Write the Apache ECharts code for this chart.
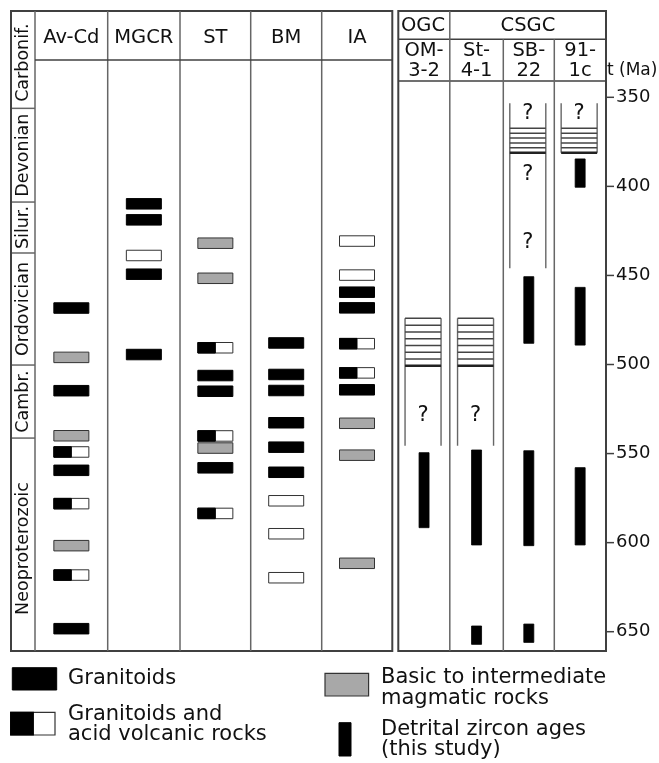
<!DOCTYPE html>
<html><head><meta charset="utf-8">
<script src="https://cdn.jsdelivr.net/npm/echarts@6/dist/echarts.min.js"></script>
<style>html,body{margin:0;padding:0;background:#fff}#c{width:659px;height:763px}</style>
</head><body><div id="c"></div>
<script>
// ---------- DATA ----------
const timeTicks = [350, 400, 450, 500, 550, 600, 650];
const periodNames = ['Carbonif.', 'Devonian', 'Silur.', 'Ordovician', 'Cambr.', 'Neoproterozoic'];
const periodBounds = [356.2, 408.8, 437.4, 500.3, 541.3];

const magmaColumns = ['Av-Cd', 'MGCR', 'ST', 'BM', 'IA'];
// G = granitoids, B = basic to intermediate, W = acid volcanic, H = granitoids and acid volcanic
const avcdAges  = [468.3, 496.0, 514.7, 540.0, 549.1, 559.4, 578.1, 601.7, 618.2, 648.3];
const avcdTypes = ['G', 'B', 'G', 'B', 'H', 'G', 'H', 'B', 'H', 'G'];
const mgcrAges  = [409.8, 418.8, 438.8, 449.3, 494.4];
const mgcrTypes = ['G', 'G', 'W', 'G', 'G'];
const stAges    = [431.9, 451.6, 490.6, 506.2, 515.0, 540.1, 546.9, 558.0, 583.6];
const stTypes   = ['B', 'B', 'H', 'G', 'G', 'H', 'B', 'G', 'H'];
const bmAges    = [487.9, 505.6, 514.6, 532.7, 546.4, 560.5, 576.5, 595.0, 619.7];
const bmTypes   = ['G', 'G', 'G', 'G', 'G', 'G', 'W', 'W', 'W'];
const iaAges    = [430.7, 449.8, 459.4, 468.2, 488.3, 504.7, 514.2, 533.0, 550.9, 611.6];
const iaTypes   = ['W', 'W', 'G', 'G', 'H', 'H', 'G', 'B', 'B', 'B'];

const groupNames = ['OGC', 'CSGC'];
const sampleNames = ['OM-\n3-2', 'St-\n4-1', 'SB-\n22', '91-\n1c'];
// detrital zircon age ranges (this study)
const detritalSample = [0, 1, 1, 2, 2, 2, 3, 3, 3];
const detritalFrom   = [549.5, 548.0, 646.8, 450.7, 548.4, 645.7, 384.6, 456.7, 557.9];
const detritalTo     = [591.6, 601.3, 657.1, 488.1, 601.7, 656.0, 400.5, 489.1, 601.3];
// hatched (uncertain) intervals
const hatchSample   = [0, 1, 2, 3];
const bracketTop    = [474.1, 474.1, 353.4, 353.4];
const hatchTop      = [474.1, 474.1, 367.4, 367.4];
const hatchBottom   = [500.7, 500.7, 381.1, 381.1];
const bracketBottom = [545.6, 545.6, 446.0, 381.1];
const hatchCount    = [8, 8, 6, 6];
const questionSample = [0, 1, 2, 2, 2, 3];
const questionAge    = [528.9, 528.9, 359.0, 393.6, 431.6, 359.0];

const legendLabels = ['Granitoids', 'Granitoids and\nacid volcanic rocks', 'Basic to intermediate\nmagmatic rocks', 'Detrital zircon ages\n(this study)'];

// ---------- LAYOUT ----------
const FONT = 'DejaVu Sans';
const TXT = '#111';
const OUT = '#404040', INN = '#666';
const yMin = 301.55, yMax = 660.83;
const colEdges = [35, 107.7, 180, 250.7, 321.7, 392.3];
const rightEdges = [398.3, 449.8, 503.3, 554.3, 606];
const colCenter = i => (colEdges[i] + colEdges[i + 1]) / 2;
const sampleCenter = i => (rightEdges[i] + rightEdges[i + 1]) / 2;

const magmaBars = [];
[[avcdAges, avcdTypes], [mgcrAges, mgcrTypes], [stAges, stTypes], [bmAges, bmTypes], [iaAges, iaTypes]]
  .forEach((pair, c) => pair[0].forEach((a, k) => magmaBars.push({ col: c, age: a, type: pair[1][k] })));

const periodTop = periodNames.map((n, i) => i === 0 ? yMin : periodBounds[i - 1]);
const periodBot = periodNames.map((n, i) => i === periodNames.length - 1 ? yMax : periodBounds[i]);

function barShape(cx, cy, type) {
  const w = 35, h = 10.5, x = cx - w / 2, y = cy - h / 2;
  if (type === 'G') return { type: 'rect', shape: { x, y, width: w, height: h }, style: { fill: '#000', stroke: '#000', lineWidth: 1 } };
  if (type === 'B') return { type: 'rect', shape: { x, y, width: w, height: h }, style: { fill: '#a8a8a8', stroke: '#333', lineWidth: 1 } };
  if (type === 'W') return { type: 'rect', shape: { x, y, width: w, height: h }, style: { fill: '#fff', stroke: '#333', lineWidth: 1 } };
  return { type: 'group', children: [
    { type: 'rect', shape: { x, y, width: w, height: h }, style: { fill: '#fff', stroke: '#333', lineWidth: 1 } },
    { type: 'rect', shape: { x, y, width: w / 2, height: h }, style: { fill: '#000', stroke: '#000', lineWidth: 1 } }
  ] };
}

const graphics = [];
function line(x1, y1, x2, y2, c, w) { graphics.push({ type: 'line', shape: { x1, y1, x2, y2 }, style: { stroke: c, lineWidth: w }, z: 10 }); }
function text(t, x, y, size, align, lh) {
  graphics.push({ type: 'text', x, y, z: 10, style: { text: t, fontFamily: FONT, fontSize: size, fill: TXT, align: align || 'center', verticalAlign: 'middle', lineHeight: lh || size * 1.1 } });
}
// left panel frame
graphics.push({ type: 'rect', shape: { x: 11, y: 11, width: 381.3, height: 640 }, style: { fill: 'none', stroke: OUT, lineWidth: 2 }, z: 10 });
colEdges.slice(0, 5).forEach(x => line(x, 11, x, 651, INN, 1.5));
line(35, 60, 392.3, 60, OUT, 1.5);
magmaColumns.forEach((n, i) => text(n, colCenter(i), 38, 19.5));
// right panel frame (its right edge is the time axis line)
graphics.push({ type: 'rect', shape: { x: 398.3, y: 11, width: 207.7, height: 640 }, style: { fill: 'none', stroke: OUT, lineWidth: 2 }, z: 10 });
line(398.3, 39.3, 606, 39.3, OUT, 1.5);
line(398.3, 81, 606, 81, OUT, 1.5);
line(rightEdges[1], 11, rightEdges[1], 651, INN, 1.5);
line(rightEdges[2], 39.3, rightEdges[2], 651, INN, 1.5);
line(rightEdges[3], 39.3, rightEdges[3], 651, INN, 1.5);
text(groupNames[0], (rightEdges[0] + rightEdges[1]) / 2 - 1, 26, 19.5);
text(groupNames[1], (rightEdges[1] + rightEdges[4]) / 2, 26, 19.5);
sampleNames.forEach((n, i) => text(n, sampleCenter(i), 61, 19.5, 'center', 20));
text('t (Ma)', 607, 71, 17, 'left');
// legend
graphics.push({ type: 'rect', shape: { x: 12.3, y: 667.7, width: 44.4, height: 22.3 }, style: { fill: '#000', stroke: '#000' } });
graphics.push({ type: 'rect', shape: { x: 10.7, y: 712.3, width: 44.3, height: 22.7 }, style: { fill: '#fff', stroke: '#333', lineWidth: 1.2 } });
graphics.push({ type: 'rect', shape: { x: 10.7, y: 712.3, width: 22.6, height: 22.7 }, style: { fill: '#000', stroke: '#000', lineWidth: 1.2 } });
graphics.push({ type: 'rect', shape: { x: 325, y: 673.3, width: 43.6, height: 22.7 }, style: { fill: '#a8a8a8', stroke: '#333', lineWidth: 1.2 } });
graphics.push({ type: 'rect', shape: { x: 339, y: 722.7, width: 12, height: 33.3 }, style: { fill: '#000', stroke: '#000' } });
text(legendLabels[0], 68, 679, 21, 'left');
text(legendLabels[1], 68, 724.5, 21, 'left', 20.5);
text(legendLabels[2], 381, 688, 21, 'left', 20.5);
text(legendLabels[3], 381, 739.5, 21, 'left', 19.5);

const option = {
  animation: false,
  grid: { left: 0, right: 53, top: 11, height: 640 },
  xAxis: { type: 'value', min: 0, max: 606, show: false },
  yAxis: {
    type: 'value', min: yMin, max: yMax, inverse: true, position: 'right',
    axisLine: { show: false },
    axisTick: { show: false },
    axisLabel: { show: true, customValues: timeTicks, margin: 10, fontFamily: FONT, fontSize: 18, color: TXT },
    splitLine: { show: false }
  },
  graphic: graphics,
  series: [
    { // time ticks on the right axis
      type: 'custom', clip: false, silent: true,
      data: timeTicks.map(t => [606, t]),
      renderItem: (params, api) => {
        const p = api.coord([api.value(0), api.value(1)]);
        return { type: 'line', shape: { x1: p[0], y1: p[1], x2: p[0] + 8, y2: p[1] }, style: { stroke: OUT, lineWidth: 1.5 } };
      }
    },
    { // geological periods
      type: 'custom', clip: false, silent: true,
      data: periodNames.map((n, i) => [23, periodTop[i], periodBot[i]]),
      encode: { x: 0, y: [1, 2] },
      renderItem: (params, api) => {
        const i = params.dataIndex;
        const pt = api.coord([api.value(0), api.value(1)]), pb = api.coord([api.value(0), api.value(2)]);
        const ch = [{ type: 'text', x: pt[0], y: (pt[1] + pb[1]) / 2 + (i === 0 ? 3 : (i === 5 ? 4 : 0)), rotation: Math.PI / 2,
          style: { text: periodNames[i], fontFamily: FONT, fontSize: 17.5, fill: TXT, align: 'center', verticalAlign: 'middle' } }];
        if (i < periodNames.length - 1) ch.push({ type: 'line', shape: { x1: 11, y1: pb[1], x2: 35, y2: pb[1] }, style: { stroke: INN, lineWidth: 1.5 } });
        return { type: 'group', children: ch };
      }
    },
    { // magmatic rocks
      type: 'custom', clip: false, silent: true,
      data: magmaBars.map(b => [colCenter(b.col), b.age]),
      renderItem: (params, api) => {
        const b = magmaBars[params.dataIndex];
        const p = api.coord([api.value(0), api.value(1)]);
        return barShape(p[0], p[1], b.type);
      }
    },
    { // hatched uncertain intervals
      type: 'custom', clip: false, silent: true,
      data: hatchSample.map((s, i) => [sampleCenter(s) - 1, bracketTop[i], hatchTop[i], hatchBottom[i], bracketBottom[i]]),
      encode: { x: 0, y: [1, 2, 3, 4] },
      renderItem: (params, api) => {
        const i = params.dataIndex;
        const cx = api.value(0), w = 36;
        const yT = api.coord([cx, api.value(1)])[1], hT = api.coord([cx, api.value(2)])[1];
        const hB = api.coord([cx, api.value(3)])[1], yB = api.coord([cx, api.value(4)])[1];
        const ch = [
          { type: 'line', shape: { x1: cx - w / 2, y1: yT, x2: cx - w / 2, y2: yB }, style: { stroke: INN, lineWidth: 1.4 } },
          { type: 'line', shape: { x1: cx + w / 2, y1: yT, x2: cx + w / 2, y2: yB }, style: { stroke: INN, lineWidth: 1.4 } }
        ];
        const n = hatchCount[i];
        for (let k = 0; k < n; k++) {
          const y = hT + (hB - hT) * k / (n - 1);
          ch.push({ type: 'line', shape: { x1: cx - w / 2, y1: y, x2: cx + w / 2, y2: y }, style: { stroke: k === n - 1 ? '#222' : '#444', lineWidth: k === n - 1 ? 2.4 : 1.5 } });
        }
        return { type: 'group', children: ch };
      }
    },
    { // question marks
      type: 'custom', clip: false, silent: true,
      data: questionSample.map((s, i) => [sampleCenter(s) - 1, questionAge[i]]),
      renderItem: (params, api) => {
        const p = api.coord([api.value(0), api.value(1)]);
        return { type: 'text', x: p[0], y: p[1], style: { text: '?', fontFamily: FONT, fontSize: 21, fill: TXT, align: 'center', verticalAlign: 'middle' } };
      }
    },
    { // detrital zircon ages
      type: 'custom', clip: false, silent: true,
      data: detritalSample.map((s, i) => [sampleCenter(s), detritalFrom[i], detritalTo[i]]),
      encode: { x: 0, y: [1, 2] },
      renderItem: (params, api) => {
        const a = api.coord([api.value(0), api.value(1)]), b = api.coord([api.value(0), api.value(2)]);
        return { type: 'rect', shape: { x: a[0] - 5, y: a[1], width: 10, height: b[1] - a[1] }, style: { fill: '#000', stroke: '#000', lineWidth: 0.8 } };
      }
    }
  ]
};
const chart = echarts.init(document.getElementById('c'), null, { renderer: 'canvas' });
chart.setOption(option);
</script>
</body></html>
